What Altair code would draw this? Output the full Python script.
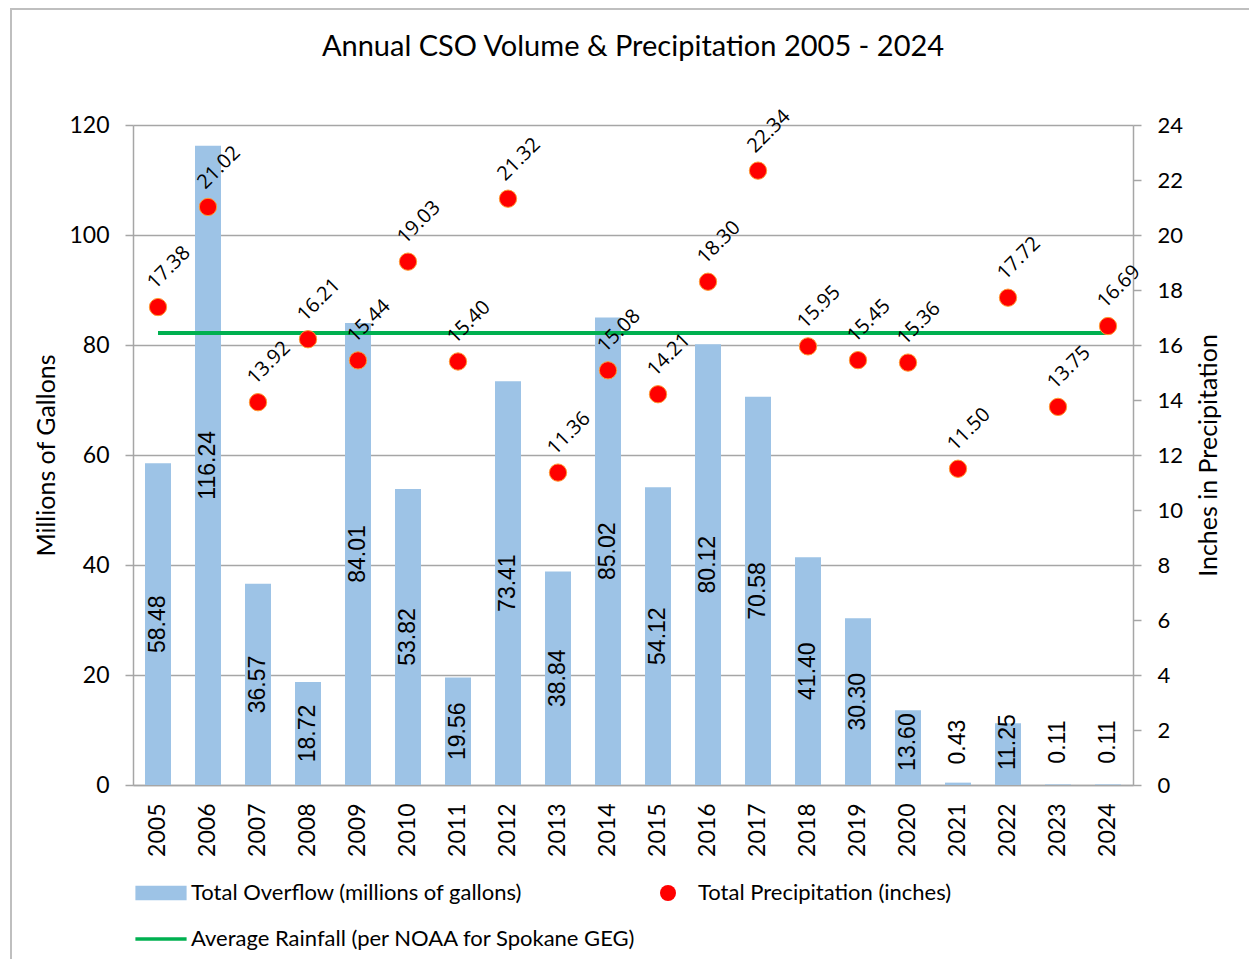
import altair as alt
import pandas as pd

# ---------------- data ----------------
YEARS = ["2005", "2006", "2007", "2008", "2009", "2010", "2011", "2012", "2013", "2014",
         "2015", "2016", "2017", "2018", "2019", "2020", "2021", "2022", "2023", "2024"]
OVERFLOW = [58.48, 116.24, 36.57, 18.72, 84.01, 53.82, 19.56, 73.41, 38.84, 85.02,
            54.12, 80.12, 70.58, 41.40, 30.30, 13.60, 0.43, 11.25, 0.11, 0.11]
PRECIP = [17.38, 21.02, 13.92, 16.21, 15.44, 19.03, 15.40, 21.32, 11.36, 15.08,
          14.21, 18.30, 22.34, 15.95, 15.45, 15.36, 11.50, 17.72, 13.75, 16.69]
AVG_RAINFALL = 16.44
SERIES = ["Total Overflow (millions of gallons)",
          "Total Precipitation (inches)",
          "Average Rainfall (per NOAA for Spokane GEG)"]
COLORS = ["#9DC3E6", "#FF0000", "#00B050"]
LEFT_TICKS = [0, 20, 40, 60, 80, 100, 120]
RIGHT_TICKS = [0, 2, 4, 6, 8, 10, 12, 14, 16, 18, 20, 22, 24]
TITLE = "Annual CSO Volume & Precipitation 2005 - 2024"

df = pd.DataFrame({
    "year": YEARS,
    "overflow": OVERFLOW,
    "precip": PRECIP,
    "avg": [AVG_RAINFALL] * len(YEARS),
})
frame_df = pd.DataFrame({"k": [0]})

FONT = "Lato"
GRAY = "#A6A6A6"

# legend symbol shapes (wide box for bars, thin bar for line)
RECT_PATH = "M-3.2,-0.9L3.2,-0.9L3.2,0.9L-3.2,0.9Z"
LINE_PATH = "M-3.2,-0.22L3.2,-0.22L3.2,0.22L-3.2,0.22Z"

x_enc = alt.X(
    "year:N", title=None, sort=None,
    scale=alt.Scale(paddingInner=0.48, paddingOuter=0.24),
    axis=alt.Axis(labelAngle=270, labelFontSize=23, labelFont=FONT, labelColor="#000",
                  ticks=False, tickSize=0, labelPadding=18, domainColor=GRAY,
                  domainWidth=1.5, grid=False),
)

left_axis = alt.Axis(
    title="Millions of Gallons", orient="left", values=LEFT_TICKS, grid=True,
    gridColor=GRAY, gridWidth=1.5, domainColor=GRAY, domainWidth=1.5,
    tickColor=GRAY, tickWidth=1.5, tickSize=8, labelFontSize=23, labelFont=FONT,
    labelColor="#000", labelPadding=16, titleFontSize=25, titleFont=FONT,
    titleFontWeight="normal", titleColor="#000", titlePadding=9,
)
right_axis = alt.Axis(
    title="Inches in Precipitation", orient="right", values=RIGHT_TICKS, grid=False,
    domainColor=GRAY, domainWidth=1.5, tickColor=GRAY, tickWidth=1.5, tickSize=8,
    labelFontSize=22, labelFont=FONT, labelColor="#000", labelPadding=16,
    titleFontSize=25, titleFont=FONT, titleFontWeight="normal", titleColor="#000",
    titlePadding=14, titleAngle=270, titleBaseline="top",
)
left_scale = alt.Scale(domain=[0, 120], nice=False)
right_scale = alt.Scale(domain=[0, 24], nice=False)

legend = alt.Legend(
    title=None, orient="none", legendX=17, legendY=757, columns=2, values=SERIES,
    direction="horizontal",
    columnPadding=20, rowPadding=24, labelFontSize=22, labelFont=FONT,
    labelColor="#000", labelOffset=19, symbolSize=256, symbolStrokeWidth=0,
    padding=0, labelLimit=600,
)

bars = alt.Chart(df).mark_bar(color=COLORS[0]).encode(
    x=x_enc,
    y=alt.Y("overflow:Q", scale=left_scale, axis=left_axis),
)
bar_text = alt.Chart(df).transform_calculate(
    labelY="max(datum.overflow / 2, 7.8)"
).mark_text(angle=270, fontSize=23, font="Liberation Sans", color="#000",
            align="center", baseline="middle").encode(
    x=x_enc,
    y=alt.Y("labelY:Q", scale=left_scale, axis=left_axis),
    text=alt.Text("overflow:Q", format=".2f"),
)

# chart-area border (left and top edges)
border_left = alt.Chart(frame_df).mark_rule(color="#BFBFBF", strokeWidth=2).encode(
    x=alt.value(-122), y=alt.value(-117), y2=alt.value(842),
)
border_top = alt.Chart(frame_df).mark_rule(color="#BFBFBF", strokeWidth=2).encode(
    x=alt.value(-122), x2=alt.value(1120), y=alt.value(-116),
)

line = alt.Chart(df).mark_line(color=COLORS[2], strokeWidth=4).encode(
    x=x_enc,
    y=alt.Y("avg:Q", scale=right_scale, axis=right_axis),
)
points = alt.Chart(df).transform_calculate(
    series="'" + SERIES[1] + "'"
).mark_point(filled=True, size=300, opacity=1, stroke="#FF9933",
             strokeWidth=1).encode(
    x=x_enc,
    y=alt.Y("precip:Q", scale=right_scale, axis=right_axis),
    color=alt.Color("series:N", scale=alt.Scale(domain=SERIES, range=COLORS),
                    legend=legend),
    shape=alt.Shape("series:N",
                    scale=alt.Scale(domain=SERIES, range=[RECT_PATH, "circle", LINE_PATH]),
                    legend=legend),
)
point_text = alt.Chart(df).mark_text(
    angle=315, align="left", baseline="middle", dx=10, dy=-20,
    fontSize=20, font="Open Sans", color="#000",
).encode(
    x=x_enc,
    y=alt.Y("precip:Q", scale=right_scale, axis=right_axis),
    text=alt.Text("precip:Q", format=".2f"),
)

left = alt.layer(border_left, border_top, bars, bar_text)
right = alt.layer(line, points, point_text)

chart = alt.layer(left, right).resolve_scale(y="independent").properties(
    width=1000, height=660,
    title=alt.TitleParams(TITLE, fontSize=29, font=FONT, fontWeight="normal",
                          color="#000", anchor="middle", offset=0, dy=55),
    autosize=alt.AutoSizeParams(type="none"),
    padding={"left": 125, "top": 117, "right": 116, "bottom": 174},
).configure_view(stroke=None)

chart.save("out.html", embed_options={"renderer": "svg", "actions": False})
